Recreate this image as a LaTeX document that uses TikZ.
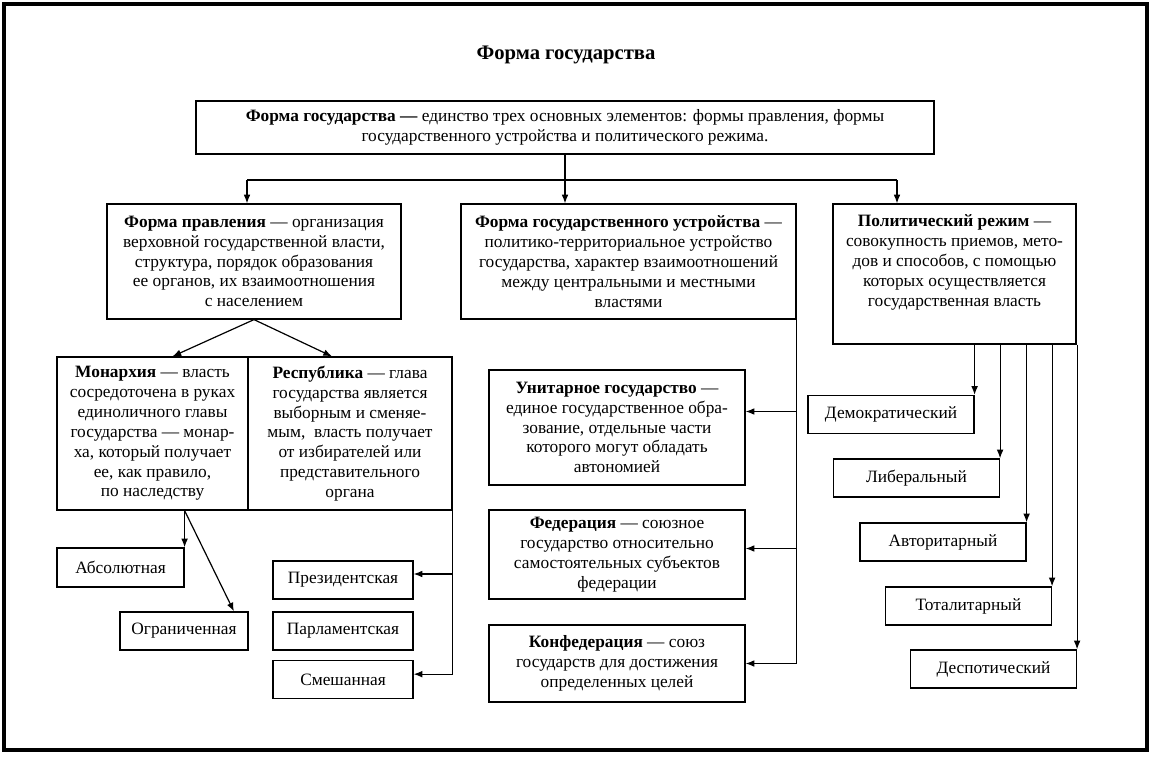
\documentclass[tikz,border=0pt]{standalone}
\usepackage{fontspec}
\setmainfont{Liberation Serif}
\usetikzlibrary{arrows.meta}
\begin{document}
\begin{tikzpicture}[x=0.75pt,y=-0.75pt,
    box/.style ={draw, line width=0.9pt, align=center, inner sep=0pt,
                 font=\fontsize{13}{14.9}\selectfont},
    kind/.style ={box, minimum width=124.5pt, minimum height=28.5pt},
    arr/.style ={-{Latex[length=6.5pt,width=5pt]}, line width=0.9pt}]
   \useasboundingbox (0,0) rectangle (1152,757);
   \draw[line width=2.6pt] (4,4) rectangle (1147,750);

   \node[font=\fontsize{15.5}{18}\selectfont\bfseries] (title) at (566,55) {Форма государства};

   \node[box, minimum width=553.5pt, minimum height=39.75pt] (form) at (565,127.5)
      {{\bfseries Форма государства —} единство трех основных элементов: формы правления, формы\\
       государственного устройства и политического режима.};

   \node[box, minimum width=220.5pt, minimum height=86.25pt] (pravl) at (254,261.5)
      {{\bfseries Форма правления} — организация\\ верховной государственной власти,\\
       структура, порядок образования\\ ее органов, их взаимоотношения\\ с населением};
   \node[box, minimum width=251.25pt, minimum height=86.25pt] (ustr) at (628.5,261.5)
      {{\bfseries Форма государственного устройства} —\\ политико-территориальное устройство\\
       государства, характер взаимоотношений\\ между центральными и местными\\ властями};
   \node[box, minimum width=182.25pt, minimum height=105pt] (regime) at (954.5,274)
      {{\bfseries Политический режим} —\\ совокупность приемов, мето-\\
       дов и способов, с помощью\\ которых осуществляется\\ государственная власть\\[5pt]\mbox{}};

   \node[box, minimum width=143.25pt, minimum height=114.75pt] (monarch) at (152.5,433.5)
      {{\bfseries Монархия} — власть\\ сосредоточена в руках\\ единоличного главы\\
       государства — монар-\\ ха, который получает\\ ее, как правило,\\ по наследству};
   \node[box, minimum width=153pt, minimum height=114.75pt] (republic) at (350,433.5)
      {{\bfseries Республика} — глава\\ государства является\\ выборным и сменяе-\\
       мым, \ власть получает\\ от избирателей или\\ представительного\\ органа};

   \node[box, minimum width=95.25pt, minimum height=29.25pt] (absol) at (120.5,567.5) {Абсолютная};
   \node[box, minimum width=96pt, minimum height=28.5pt] (ogran) at (184,631) {Ограниченная};
   \node[box, minimum width=105pt, minimum height=28.5pt] (prez) at (343,580) {Президентская};
   \node[box, minimum width=105pt, minimum height=28.5pt] (parl) at (343,631) {Парламентская};
   \node[box, minimum width=105pt, minimum height=28.5pt] (mixed) at (343,679.5) {Смешанная};

   \node[box, minimum width=192pt, minimum height=86.25pt] (unitary) at (617,427.5)
      {{\bfseries Унитарное государство} —\\ единое государственное обра-\\
       зование, отдельные части\\ которого могут обладать\\ автономией};
   \node[box, minimum width=192pt, minimum height=66.75pt] (feder) at (617,554.5)
      {{\bfseries Федерация} — союзное\\ государство относительно\\
       самостоятельных субъектов\\ федерации};
   \node[box, minimum width=192pt, minimum height=57.75pt] (confed) at (617,663.5)
      {{\bfseries Конфедерация} — союз\\ государств для достижения\\ определенных целей};

   \node[kind] (demo) at (891,414.5) {Демократический};
   \node[kind] (liber) at (916.5,478) {Либеральный};
   \node[kind] (avtor) at (943,542) {Авторитарный};
   \node[kind] (total) at (968.5,606) {Тоталитарный};
   \node[kind] (despot) at (993.5,669) {Деспотический};

   % top level
   \coordinate (busL) at (247,180);
   \coordinate (busR) at (897,180);
   \draw[line width=0.9pt] (busL) -- (busR);
   \draw[arr] (form.south) -- (form.south |- ustr.north);
   \draw[arr] (busL) -- (busL |- pravl.north);
   \draw[arr] (busR) -- (busR |- regime.north);

   % form of government
   \draw[arr] (pravl.south) -- ([xshift=15pt]monarch.north);
   \draw[arr] (pravl.south) -- ([xshift=-13.5pt]republic.north);
   \draw[arr] (absol.north east |- monarch.south) -- (absol.north east);
   \draw[arr] (absol.north east |- monarch.south) -- ([xshift=-11pt]ogran.north east);
   \coordinate (prezIn) at ([yshift=4.5pt]prez.east);
   \coordinate (mixedIn) at ([yshift=4pt]mixed.east);
   \draw[arr] (republic.south east) |- (mixedIn);
   \draw[arr] (republic.south east |- prezIn) -- (prezIn);

   % territorial structure
   \coordinate (unitIn) at ([yshift=12pt]unitary.east);
   \coordinate (federIn) at ([yshift=4.5pt]feder.east);
   \draw[arr] (ustr.south east) |- (confed.east);
   \draw[arr] (ustr.south east |- unitIn) -- (unitIn);
   \draw[arr] (ustr.south east |- federIn) -- (federIn);

   % political regime
   \draw[arr] (demo.north east |- regime.south) -- (demo.north east);
   \draw[arr] (liber.north east |- regime.south) -- (liber.north east);
   \draw[arr] (avtor.north east |- regime.south) -- (avtor.north east);
   \draw[arr] (total.north east |- regime.south) -- (total.north east);
   \draw[arr] (despot.north east |- regime.south) -- (despot.north east);
 \end{tikzpicture}
\end{document}
